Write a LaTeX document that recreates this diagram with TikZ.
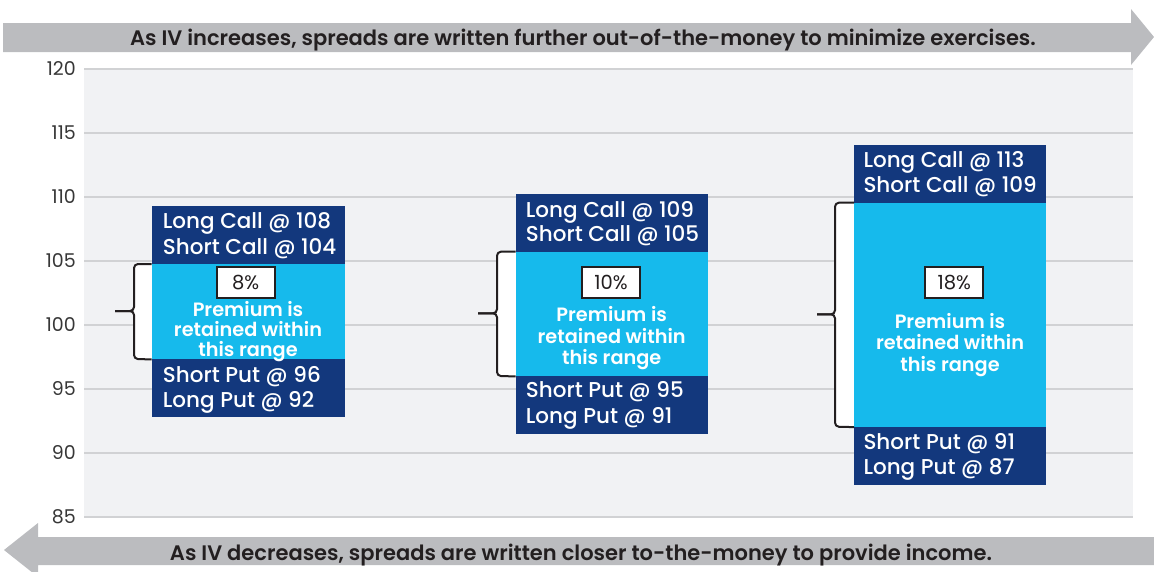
\documentclass[tikz,border=0pt]{standalone}
\usepackage{fontspec}
\setmainfont{Poppins}
\newfontfamily\popmed{Poppins Medium}
\newfontfamily\popsemi{Poppins SemiBold}
\definecolor{navy}{RGB}{19,56,125}
\definecolor{sky}{RGB}{22,186,236}
\definecolor{arrowgray}{RGB}{187,188,191}
\definecolor{plotbg}{RGB}{241,242,244}
\definecolor{gridc}{RGB}{209,210,212}
\definecolor{txt}{RGB}{35,31,32}
\definecolor{axtxt}{RGB}{55,55,55}
\tikzset{
  darkbox/.style={fill=navy, draw=none, anchor=north west, inner sep=0pt},
  skybox/.style={fill=sky, draw=none, anchor=north west, inner sep=0pt},
  boxtext/.style={text=white, font=\fontsize{21.5}{22}\popmed, anchor=base west, inner sep=0pt},
  premium/.style={text=white, font=\fontsize{19.3}{#1}\popsemi, align=center, inner sep=0pt},
  pctbox/.style={fill=white, draw=txt, line width=2pt, minimum width=58pt, minimum height=31pt, inner sep=0pt, text=txt, font=\fontsize{19.5}{20}\selectfont},
  axlabel/.style={text=axtxt, font=\fontsize{19}{20}\selectfont, anchor=base east, inner sep=0pt},
  arrowtext/.style={text=txt, font=\fontsize{21}{22}\popsemi, anchor=base, inner sep=0pt},
  bracket/.style={draw=txt, line width=2pt, rounded corners=4pt},
  gridline/.style={draw=gridc, line width=2pt},
  bigarrow/.style={fill=arrowgray, draw=none}
}
\begin{document}
\begin{tikzpicture}[x=1pt, y=-1pt]
\useasboundingbox (0,0) rectangle (1154,571);
% arrows
\fill[bigarrow] (3,23) -- (1131,23) -- (1131,9) -- (1154,37) -- (1131,65) -- (1131,52) -- (3,52) -- cycle;
\node[arrowtext] (toptext) at (583,45) {As IV increases, spreads are written further out-of-the-money to minimize exercises.};
\fill[bigarrow] (1154,537) -- (38,537) -- (38,523) -- (4,550) -- (38,577) -- (38,565) -- (1154,565) -- cycle;
\node[arrowtext] (bottext) at (581,560) {As IV decreases, spreads are written closer to-the-money to provide income.};
% plot area
\fill[plotbg] (84,69) rectangle (1133,517);
\foreach \v/\y in {120/69.3,115/133.2,110/197.1,105/261.0,100/324.9,95/388.8,90/452.7,85/516.6}{
  \draw[gridline] (84,\y) -- (1133,\y);
  \node[axlabel] (ax\v) at (76,\y+6.5) {\v};
}
% ---------- column 1 ----------
\fill[white] (134,264) rectangle (151.7,359);
\node[darkbox, minimum width=193.3pt, minimum height=58pt] (c1) at (151.7,206) {};
\node[skybox, minimum width=193.3pt, minimum height=95pt] (m1) at (151.7,264) {};
\node[darkbox, minimum width=193.3pt, minimum height=57.7pt] (p1) at (151.7,359) {};
\draw[bracket] (m1.north west) -- (134,264) -- (134,311) -- (115,311);
\draw[bracket] (115,311) -- (134,311) -- (134,359) -- (m1.south west);
\node[boxtext] (c1a) at (162.7,228.7) {Long Call @ 108};
\node[boxtext] (c1b) at (162.7,254.3) {Short Call @ 104};
\node[boxtext] (p1a) at (162.7,382) {Short Put @ 96};
\node[boxtext] (p1b) at (162.7,407) {Long Put @ 92};
\node[pctbox] (pct1) at (245.7,282.2) {8\%};
\node[premium=20pt] (pr1) at (248,332) {Premium is\\retained within\\this range};
% ---------- column 2 ----------
\fill[white] (497,251.7) rectangle (515.7,376);
\node[darkbox, minimum width=192pt, minimum height=57.7pt] (c2) at (515.7,194) {};
\node[skybox, minimum width=192pt, minimum height=124.3pt] (m2) at (515.7,251.7) {};
\node[darkbox, minimum width=192pt, minimum height=58pt] (p2) at (515.7,376) {};
\draw[bracket] (m2.north west) -- (497,251.7) -- (497,313.3) -- (478,313.3);
\draw[bracket] (478,313.3) -- (497,313.3) -- (497,376) -- (m2.south west);
\node[boxtext] (c2a) at (525.7,217.7) {Long Call @ 109};
\node[boxtext] (c2b) at (525.7,241) {Short Call @ 105};
\node[boxtext] (p2a) at (525.7,397.7) {Short Put @ 95};
\node[boxtext] (p2b) at (525.7,423) {Long Put @ 91};
\node[pctbox] (pct2) at (611,282) {10\%};
\node[premium=21.5pt] (pr2) at (611.7,338.5) {Premium is\\retained within\\this range};
% ---------- column 3 ----------
\fill[white] (835,202.7) rectangle (854,426.7);
\node[darkbox, minimum width=192pt, minimum height=57.7pt] (c3) at (854,145) {};
\node[skybox, minimum width=192pt, minimum height=224pt] (m3) at (854,202.7) {};
\node[darkbox, minimum width=192pt, minimum height=57.6pt] (p3) at (854,426.7) {};
\draw[bracket] (m3.north west) -- (835,202.7) -- (835,314.3) -- (817,314.3);
\draw[bracket] (817,314.3) -- (835,314.3) -- (835,426.7) -- (m3.south west);
\node[boxtext] (c3a) at (863.3,167.7) {Long Call @ 113};
\node[boxtext] (c3b) at (863.3,192) {Short Call @ 109};
\node[boxtext] (p3a) at (863.3,449.7) {Short Put @ 91};
\node[boxtext] (p3b) at (863.3,474.7) {Long Put @ 87};
\node[pctbox] (pct3) at (954.2,282.3) {18\%};
\node[premium=21.5pt] (pr3) at (950,345) {Premium is\\retained within\\this range};
\end{tikzpicture}
\end{document}
